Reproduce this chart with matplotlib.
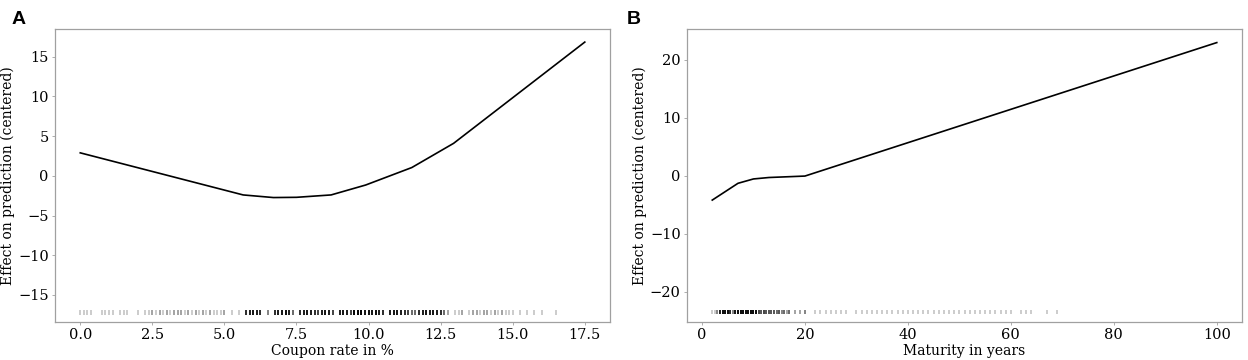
"""
Partial dependence plots for coupon rate and maturity (panels A and B)
"""

import matplotlib.pyplot as plt
import numpy as np

# Panel A: coupon rate effect curve
coupon_x = [0.0, 5.65, 6.7, 7.5, 8.7, 9.9, 11.5, 12.95, 17.5]
coupon_y = [2.9, -2.4, -2.73, -2.7, -2.4, -1.15, 1.05, 4.1, 16.85]

# Panel A rug (observed coupon rates and how many bonds sit at each)
rug_a_pos = [0.0, 0.125, 0.25, 0.375, 0.75, 0.875, 1.0, 1.125, 1.375, 1.5, 1.625,
             2.0, 2.25, 2.375, 2.5, 2.625, 2.75, 2.875, 3.0, 3.125, 3.25, 3.375,
             3.5, 3.625, 3.75, 3.875, 4.0, 4.125, 4.25, 4.375, 4.5, 4.625, 4.75,
             4.875, 5.0, 5.25, 5.5,
             5.75, 5.875, 6.0, 6.125, 6.25, 6.5, 6.75, 6.875, 7.0, 7.125, 7.25,
             7.375, 7.625, 7.75, 7.875, 8.0, 8.125, 8.25, 8.375, 8.5, 8.625, 8.75,
             9.0, 9.125, 9.25, 9.375, 9.5, 9.625, 9.75, 9.875, 10.0, 10.125, 10.25,
             10.375, 10.5, 10.75, 10.875, 11.0, 11.125, 11.25, 11.375, 11.5, 11.625,
             11.75, 11.875, 12.0, 12.125, 12.25, 12.375, 12.5, 12.625, 12.75,
             13.0, 13.125, 13.25, 13.5, 13.625, 13.75, 13.875, 14.0, 14.125, 14.25,
             14.375, 14.5, 14.625, 14.75, 14.875, 15.0, 15.25, 15.5, 15.75, 16.0, 16.5]
rug_a_cnt = [1, 1, 1, 1, 1, 1, 1, 1, 1, 1, 1,
             1, 1, 1, 2, 1, 2, 1, 2, 1, 2, 2,
             2, 1, 2, 1, 2, 1, 2, 1, 2, 1, 1,
             1, 2, 1, 1,
             8, 10, 12, 10, 8, 3, 8, 10, 12, 14, 10,
             4, 8, 10, 12, 10, 8, 6, 10, 12, 10, 6,
             10, 12, 10, 6, 25, 30, 25, 12, 14, 12, 14,
             10, 8, 10, 12, 12, 10, 8, 6, 4, 4,
             8, 10, 12, 10, 12, 10, 8, 4, 2,
             1, 1, 2, 1, 2, 2, 1, 2, 2, 1,
             2, 1, 2, 1, 1, 1, 1, 1, 1, 1, 1]

# Panel B: maturity effect curve
maturity_x = [2, 7, 10, 13, 20, 100]
maturity_y = [-4.2, -1.3, -0.55, -0.3, -0.05, 23.0]

# Panel B rug (observed maturities)
rug_b_pos = [2, 2.5, 3, 3.5, 4, 4.5, 5, 5.5, 6, 6.5, 7, 7.5, 8, 8.5, 9, 9.5, 10,
             10.5, 11, 11.5, 12, 12.5, 13, 13.5, 14, 14.5, 15, 15.5, 16, 16.5, 17,
             18, 19, 20, 22, 23, 24, 25, 26, 27, 28, 30, 31, 32, 33, 34, 35, 36,
             37, 38, 39, 40, 41, 42, 43, 44, 45, 46, 47, 48, 49, 50, 51, 52, 53,
             54, 55, 56, 57, 58, 59, 60, 62, 63, 64, 67, 69]
rug_b_cnt = [1, 1, 3, 10, 14, 14, 14, 8, 3, 12, 16, 16, 16, 14, 14, 16, 16,
             14, 6, 5, 6, 5, 5, 5, 5, 4, 5, 3, 4, 2, 4,
             2, 2, 3, 1, 1, 1, 1, 1, 1, 1, 1, 1, 1, 1, 1, 1, 1,
             1, 1, 1, 1, 1, 1, 1, 1, 1, 1, 1, 1, 1, 1, 1, 1, 1,
             1, 1, 1, 1, 1, 1, 1, 1, 1, 1, 1, 1]

SPINE = '#a0a0a0'


def draw_panel(ax, x, y, rug_pos, rug_cnt, rug_y, rug_h, xlabel, xlim, ylim,
               xticks, yticks, xfmt):
    ax.plot(x, y, color='black', linewidth=1.2)
    # rug: stacked translucent ticks, darker where more observations
    for p, c in zip(rug_pos, rug_cnt):
        a = 1 - (1 - 0.2) ** c
        ax.vlines(p, rug_y - rug_h, rug_y + rug_h, color='black', alpha=a,
                  linewidth=1.4)
    ax.set_xlim(*xlim)
    ax.set_ylim(*ylim)
    ax.set_xticks(xticks)
    ax.set_xticklabels([xfmt.format(t) for t in xticks])
    ax.set_yticks(yticks)
    ax.set_xlabel(xlabel, fontsize=10, family='DejaVu Serif', labelpad=1)
    ax.set_ylabel('Effect on prediction (centered)', fontsize=10,
                  family='DejaVu Serif', labelpad=2)
    for s in ax.spines.values():
        s.set_color(SPINE)
        s.set_linewidth(0.9)
    ax.tick_params(colors=SPINE, labelcolor='black', length=2.5, width=0.6,
                   labelsize=10.5, pad=2)
    for lab in ax.get_xticklabels() + ax.get_yticklabels():
        lab.set_family('DejaVu Serif')


fig = plt.figure(figsize=(12.48, 3.6), dpi=100)
ax_a = fig.add_axes([0.0441, 0.1056, 0.4447, 0.8139])
ax_b = fig.add_axes([0.5505, 0.1056, 0.4447, 0.8139])

draw_panel(ax_a, coupon_x, coupon_y, rug_a_pos, rug_a_cnt, -17.2, 0.28,
           'Coupon rate in %', (-0.875, 18.375), (-18.4, 18.5),
           [0.0, 2.5, 5.0, 7.5, 10.0, 12.5, 15.0, 17.5],
           [-15, -10, -5, 0, 5, 10, 15], '{:.1f}')
draw_panel(ax_b, maturity_x, maturity_y, rug_b_pos, rug_b_cnt, -23.5, 0.38,
           'Maturity in years', (-2.9, 104.9), (-25.25, 25.35),
           [0, 20, 40, 60, 80, 100], [-20, -10, 0, 10, 20], '{:d}')

fig.text(0.0096, 0.933, 'A', fontsize=14, fontweight='bold',
         family='Liberation Sans')
fig.text(0.5025, 0.933, 'B', fontsize=14, fontweight='bold',
         family='Liberation Sans')

plt.savefig('out.png', dpi=100)
plt.close()
